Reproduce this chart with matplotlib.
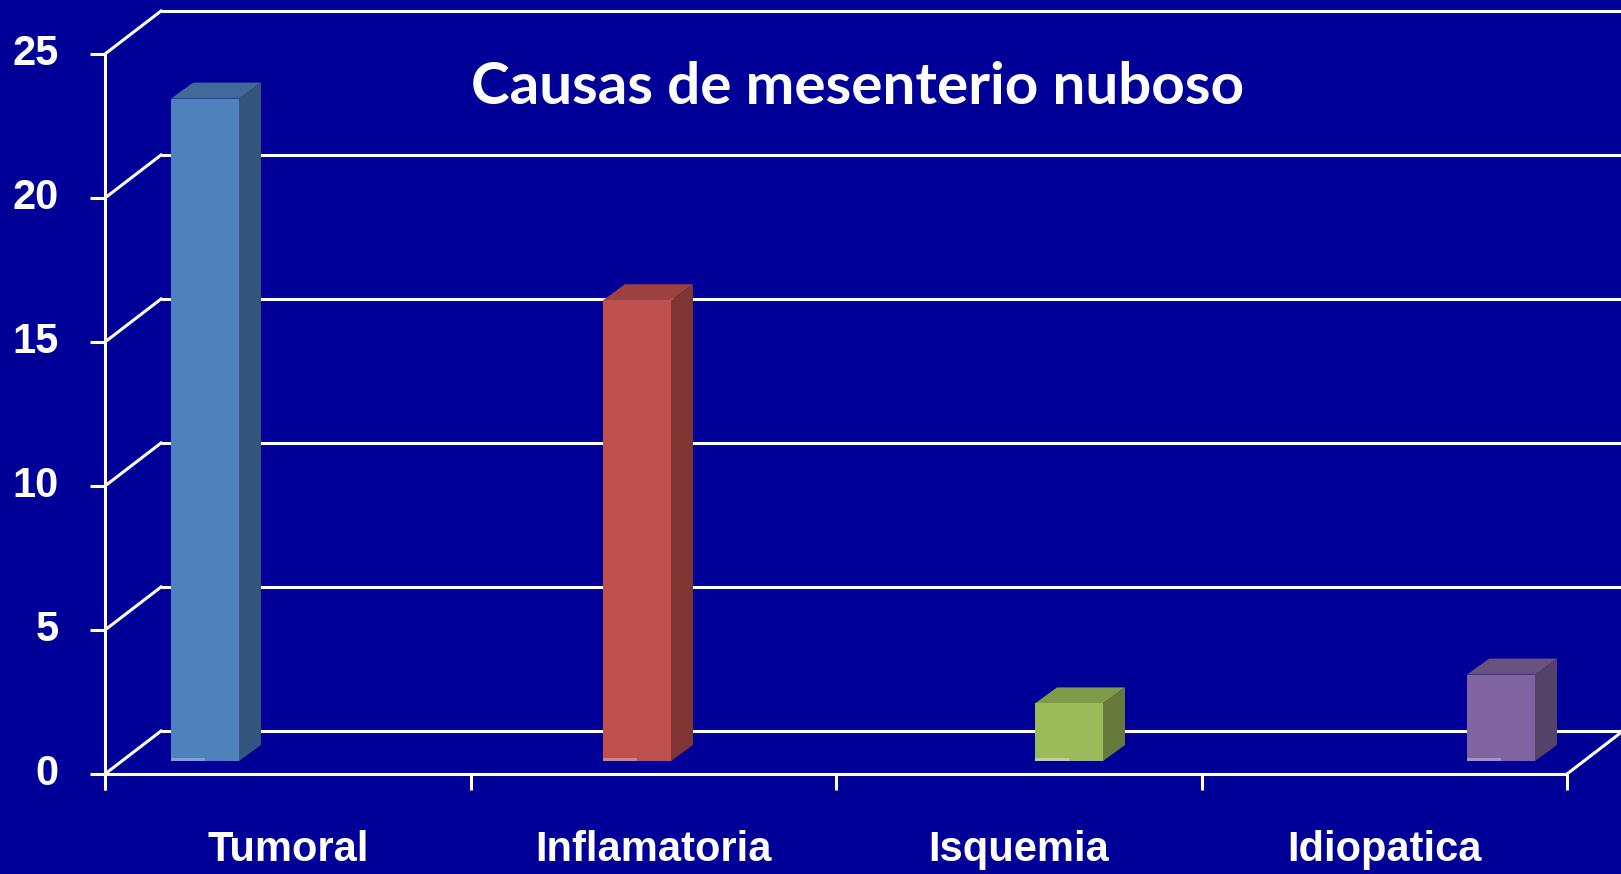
import matplotlib
matplotlib.use("Agg")
import matplotlib.pyplot as plt
from matplotlib.patches import Polygon, Rectangle
import numpy as np

categories = ["Tumoral", "Inflamatoria", "Isquemia", "Idiopatica"]
values = [23, 16, 2, 3]
yticks = [0, 5, 10, 15, 20, 25]
title = "Causas de mesenterio nuboso"

front_colors = ["#4F81BD", "#C0504D", "#9BBB59", "#8064A2"]
side_colors = ["#34557D", "#7F3533", "#667A3B", "#544269"]
top_colors = ["#41699A", "#9D4240", "#7F9A49", "#69527F"]
strip_colors = ["#7FA3D0", "#D08482", "#BFD193", "#A592BE"]
bg = "#000099"

W, H, DPI = 1621, 874, 100
fig = plt.figure(figsize=(W / DPI, H / DPI), dpi=DPI, facecolor=bg)

# front plane of the chart (pixels)
L, R, B0, T25 = 105, 1567, 774, 54
ax = fig.add_axes([L / W, (H - B0) / H, (R - L) / W, (B0 - T25) / H])
ax.set_xlim(-0.5, 3.5)
ax.set_ylim(0, 25)
ax.set_facecolor(bg)
ax.axis("off")

ux = 4.0 / (R - L)      # data units per pixel, x
uy = 25.0 / (B0 - T25)  # data units per pixel, y

lw = 2.2
label_font = dict(color="white", fontsize=30, fontweight="bold",
                  family="Liberation Sans")
# depth offsets (pixels)
wall_dx, wall_dy = 56, 43
bar_dx0, bar_dy0 = 17, 13
bar_dx1, bar_dy1 = 39, 29

wx, wy = wall_dx * ux, wall_dy * uy
xl, xr = -0.5, 3.5
for t in yticks:
    ax.plot([xl + wx, xr + wx], [t + wy, t + wy], color="white", lw=lw,
            clip_on=False, zorder=1, solid_capstyle="butt")
    ax.plot([xl, xl + wx], [t, t + wy], color="white", lw=lw,
            clip_on=False, zorder=1)
    ax.plot([xl - 15 * ux, xl], [t, t], color="white", lw=lw,
            clip_on=False, zorder=3, solid_capstyle="butt")
    ax.text(xl - 46 * ux, t, str(t), ha="right", va="center",
            clip_on=False, **label_font)

ax.plot([xr, xr + wx], [0, wy], color="white", lw=lw, clip_on=False, zorder=1)
ax.plot([xl, xl], [-16 * uy, 25], color="white", lw=lw, clip_on=False,
        zorder=3, solid_capstyle="butt")
ax.plot([xl, xr], [0, 0], color="white", lw=lw, clip_on=False, zorder=3,
        solid_capstyle="butt")
for k in range(5):
    xt = xl + k
    ax.plot([xt, xt], [-16 * uy, 0], color="white", lw=lw, clip_on=False,
            zorder=3, solid_capstyle="butt")

for i, c in enumerate(categories):
    ax.text(i, -76 * uy, c, ha="center", va="center", clip_on=False,
            **label_font)

# bars
bar_w = 68 * ux
bar_spacing = 432 * ux
first_left = (154 - L) * ux - 0.5
for i, v in enumerate(values):
    x0 = first_left + i * bar_spacing + bar_dx0 * ux
    x1 = x0 + bar_w
    y0 = bar_dy0 * uy
    y1 = y0 + v
    ddx = (bar_dx1 - bar_dx0) * ux
    ddy = (bar_dy1 - bar_dy0) * uy
    ax.add_patch(Polygon([[x1, y0], [x1 + ddx, y0 + ddy], [x1 + ddx, y1 + ddy],
                          [x1, y1]], closed=True, facecolor=side_colors[i],
                         edgecolor="none", zorder=5, clip_on=False))
    ax.add_patch(Polygon([[x0, y1], [x0 + ddx, y1 + ddy], [x1 + ddx, y1 + ddy],
                          [x1, y1]], closed=True, facecolor=top_colors[i],
                         edgecolor="none", zorder=5, clip_on=False))
    ax.add_patch(Rectangle((x0, y0), bar_w, v, facecolor=front_colors[i],
                           edgecolor="none", zorder=6, clip_on=False))
    ax.add_patch(Rectangle((x0, y0), bar_w / 2, 3 * uy,
                           facecolor=strip_colors[i], edgecolor="none",
                           zorder=7, clip_on=False))

fig.text(858 / W, 1 - 88 / H, title, color="white", fontsize=42,
         fontweight="bold", family="Lato", ha="center", va="center")

fig.savefig("out.png", dpi=DPI, facecolor=bg)
